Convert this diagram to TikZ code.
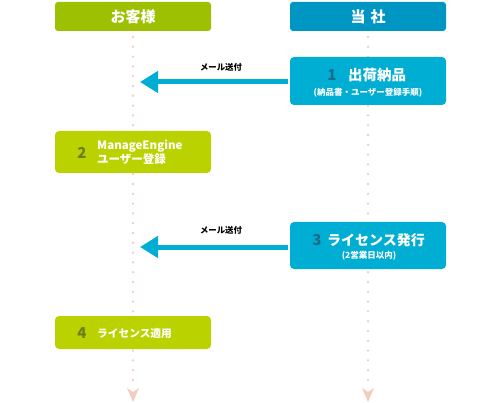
\documentclass[tikz,border=0pt]{standalone}
\usepackage{fontspec}
\setmainfont{Noto Sans CJK JP}
\usetikzlibrary{arrows.meta}
\definecolor{hgreen}{HTML}{9DC000}
\definecolor{bgreen}{HTML}{BAD300}
\definecolor{hblue}{HTML}{0096C3}
\definecolor{bblue}{HTML}{00AED4}
\definecolor{gnum}{HTML}{6E7D1A}
\definecolor{bnum}{HTML}{1B6C8C}
\definecolor{dotc}{HTML}{F2CDBE}
\begin{document}
\begin{tikzpicture}[x=1pt,y=-1pt,
  hdr/.style={rounded corners=3pt, minimum width=156pt, minimum height=29pt, inner sep=0pt, text=white, font=\bfseries\fontsize{15}{15}\selectfont},
  box/.style={rounded corners=4pt, minimum width=156pt, inner sep=0pt, text=white},
  lane/.style={dotc, line width=2.6pt, line cap=round, dash pattern=on 0pt off 9.8pt},
  msg/.style={bblue, line width=5pt, -{Triangle[length=18pt,width=21pt]}},
  num/.style={font=\bfseries\fontsize{15}{15}\selectfont, inner sep=0pt},
  ttl/.style={font=\bfseries\fontsize{14.5}{14.5}\selectfont, text=white, inner sep=0pt, anchor=west},
  sub/.style={font=\bfseries\fontsize{8.5}{8.5}\selectfont, text=white, inner sep=0pt},
  lbl/.style={font=\bfseries\fontsize{8.4}{8.4}\selectfont, text=black, inner sep=0pt}]
\useasboundingbox (0,0) rectangle (500,403);
% lanes
\coordinate (lt) at (133,37);
\coordinate (lb) at (133,380);
\coordinate (rt) at (368,37);
\coordinate (rb) at (368,380);
\draw[lane] (lt) -- (lb);
\draw[lane] (rt) -- (rb);
\fill[dotc] (127,388) -- (133,392) -- (139,388) -- (133,402) -- cycle;
\fill[dotc] (362,388) -- (368,392) -- (374,388) -- (368,402) -- cycle;
% headers
\node[hdr, fill=hgreen] (hc) at (133,16.5) {お客様};
\node[hdr, fill=hblue] (hs) at (368,16.5) {当\hspace{5pt}社};
% box 1
\node[box, fill=bblue, minimum height=48pt] (b1) at (368,81) {};
\node[num, text=bnum] (n1) at (332,75) {1};
\node[ttl] (t1) at (348,75) {出荷納品};
\node[sub] (s1) at (368,92.5) {(納品書・ユーザー登録手順)};
% box 2
\node[box, fill=bgreen, minimum height=42pt] (b2) at (133,152) {};
\node[num, text=gnum] (n2) at (82,153) {2};
\node[font=\bfseries\fontsize{11.5}{12}\selectfont, text=white, anchor=west, align=left, inner sep=0pt] (t2) at (97,152.5) {ManageEngine\\ユーザー登録};
% box 3
\node[box, fill=bblue, minimum height=47pt] (b3) at (368,245.5) {};
\node[num, text=bnum] (n3) at (317,240) {3};
\node[ttl, font=\bfseries\fontsize{14}{14}\selectfont] (t3) at (327,240) {ライセンス発行};
\node[sub] (s3) at (369,256) {(2営業日以内)};
% box 4
\node[box, fill=bgreen, minimum height=33pt] (b4) at (133,332.5) {};
\node[num, text=gnum] (n4) at (82,333) {4};
\node[font=\bfseries\fontsize{10.7}{10.7}\selectfont, text=white, anchor=west, inner sep=0pt] (t4) at (97,333) {ライセンス適用};
% messages
\coordinate (m1) at (140,82);
\coordinate (m3) at (140,247);
\draw[msg] (b1.west |- m1) ++(-2,0) -- (m1);
\draw[msg] (b3.west |- m3) ++(-2,0) -- (m3);
\node[lbl] (l1) at (221,67) {メール送付};
\node[lbl] (l3) at (221,230) {メール送付};
\end{tikzpicture}
\end{document}
